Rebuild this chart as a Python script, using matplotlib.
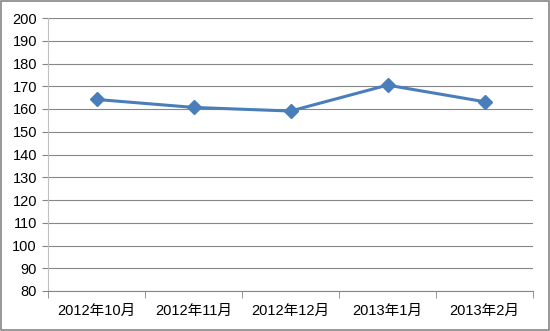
import matplotlib.pyplot as plt
import numpy as np

plt.rcParams['font.family'] = ['Liberation Sans', 'Noto Sans CJK SC']

months = ['2012年10月', '2012年11月', '2012年12月', '2013年1月', '2013年2月']
values = [164.2, 160.7, 159.1, 170.5, 163.2]

fig = plt.figure(figsize=(5.5, 3.31), dpi=100)
ax = fig.add_axes([48 / 550, 1 - 291 / 331, (533 - 48) / 550, (291 - 18) / 331])

x = np.arange(len(months))
ax.plot(x, values, color='#4A7EBB', linewidth=2.2, marker='D', markersize=7,
        markerfacecolor='#4A7EBB', markeredgecolor='#4A7EBB', zorder=3)

ax.set_ylim(80, 200)
ax.set_yticks(range(80, 201, 10))
ax.set_xlim(-0.5, len(months) - 0.5)
ax.set_xticks(x)
ax.set_xticklabels(months)
ax.set_xticks(np.arange(-0.5, len(months)), minor=True)
ax.tick_params(axis='x', which='major', length=0, pad=9, labelsize=10.5)
ax.tick_params(axis='x', which='minor', length=5, color='#868686', direction='out')
ax.tick_params(axis='y', length=4, color='#868686', labelsize=10.5, pad=4)

ax.grid(axis='y', color='#868686', linewidth=0.8)
ax.set_axisbelow(True)
for s in ['top', 'right']:
    ax.spines[s].set_visible(False)
ax.spines['left'].set_color('#BFBFBF')
ax.spines['bottom'].set_color('#868686')

# 外框
fig.patches.append(plt.Rectangle((0.001, 0.002), 0.997, 0.995, transform=fig.transFigure,
                                 fill=False, edgecolor='#868686', linewidth=1.2))

fig.savefig('out.png', dpi=100)
